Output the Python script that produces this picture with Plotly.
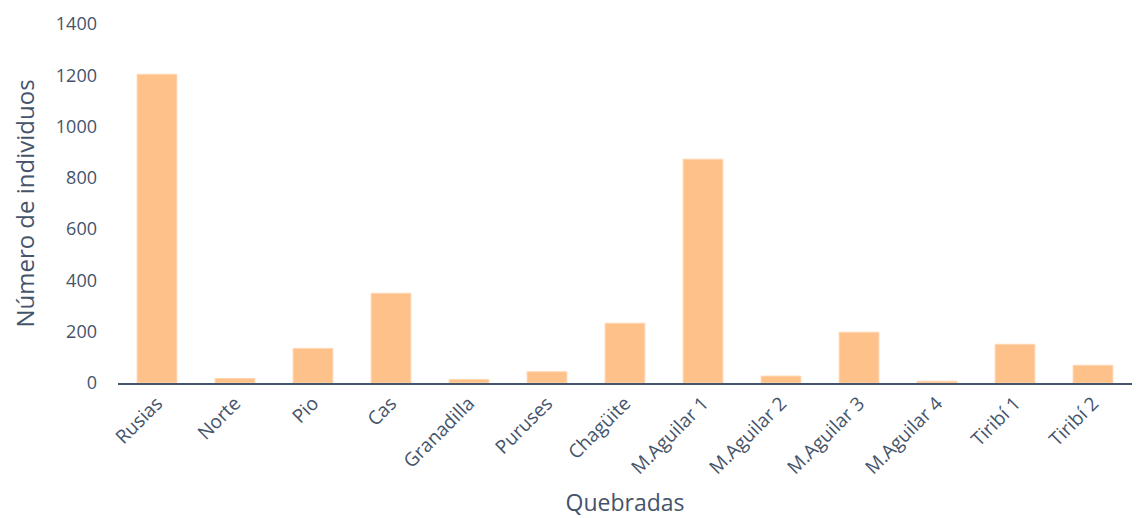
import plotly.graph_objects as go

categories = ["Rusias", "Norte", "Pio", "Cas", "Granadilla", "Puruses", "Chagüite",
              "M.Aguilar 1", "M.Aguilar 2", "M.Aguilar 3", "M.Aguilar 4", "Tiribí 1", "Tiribí 2"]
individuos = [1204, 18, 135, 350, 14, 44, 233, 873, 27, 198, 7, 151, 69]
y_ticks = [0, 200, 400, 600, 800, 1000, 1200, 1400]

text_color = "#44546A"
font_family = "Open Sans, Lato, sans-serif"

fig = go.Figure(go.Bar(
    x=categories, y=individuos,
    marker=dict(color="#FFC18A", line=dict(color="#FFD6B0", width=1)),
))

fig.update_layout(
    width=1133, height=510,
    margin=dict(l=110, r=9, t=16, b=135, autoexpand=False),
    plot_bgcolor="white", paper_bgcolor="white",
    bargap=0.49,
    showlegend=False,
    font=dict(family=font_family, color=text_color, size=16),
)
fig.update_xaxes(
    title=dict(text="Quebradas", font=dict(size=23, color=text_color), standoff=22),
    tickangle=-45, tickfont=dict(size=19, color=text_color),
    showline=True, linecolor="#44546A", linewidth=1.5,
    showgrid=False, ticks="", automargin=False,
)
fig.update_yaxes(
    title=dict(text="Número de individuos", font=dict(size=24, color=text_color), standoff=14),
    range=[0, 1400], tickvals=y_ticks,
    tickfont=dict(size=18, color=text_color),
    showgrid=False, zeroline=False, showline=False, ticks="",
    ticklabelstandoff=20, automargin=False,
)

fig.write_html("out.html")
